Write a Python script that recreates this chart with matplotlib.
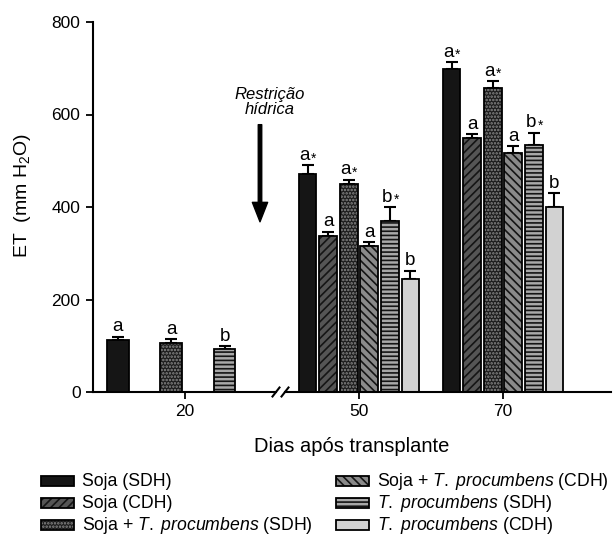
import numpy as np
import matplotlib
matplotlib.use("Agg")
import matplotlib.pyplot as plt
from matplotlib.patches import Rectangle

plt.rcParams['font.family'] = ['Liberation Sans', 'DejaVu Sans']
plt.rcParams['mathtext.fontset'] = 'custom'
plt.rcParams['mathtext.rm'] = 'Liberation Sans'
plt.rcParams['mathtext.it'] = 'Liberation Sans:italic'
plt.rcParams['hatch.linewidth'] = 1.2

# Data
days = ["20", "50", "70"]
series = ["Soja (SDH)", "Soja (CDH)", r"Soja + $\mathit{T.}$ $\mathit{procumbens}$ (SDH)",
          r"Soja + $\mathit{T.}$ $\mathit{procumbens}$ (CDH)", r"$\mathit{T.}$ $\mathit{procumbens}$ (SDH)",
          r"$\mathit{T.}$ $\mathit{procumbens}$ (CDH)"]
# ET (mm H2O) per series for days 20, 50, 70 (nan = not measured)
et_soja_sdh = [112, 472, 699]
et_soja_cdh = [np.nan, 338, 549]
et_mix_sdh = [106, 450, 658]
et_mix_cdh = [np.nan, 316, 517]
et_trif_sdh = [93, 370, 533]
et_trif_cdh = [np.nan, 245, 399]
err_soja_sdh = [8, 18, 14]
err_soja_cdh = [np.nan, 9, 9]
err_mix_sdh = [8, 9, 14]
err_mix_cdh = [np.nan, 8, 14]
err_trif_sdh = [6, 30, 28]
err_trif_cdh = [np.nan, 17, 31]
lab_soja_sdh = ["a", "a*", "a*"]
lab_soja_cdh = ["", "a", "a"]
lab_mix_sdh = ["a", "a*", "a*"]
lab_mix_cdh = ["", "a", "a"]
lab_trif_sdh = ["b", "b*", "b*"]
lab_trif_cdh = ["", "b", "b"]

values = [et_soja_sdh, et_soja_cdh, et_mix_sdh, et_mix_cdh, et_trif_sdh, et_trif_cdh]
errors = [err_soja_sdh, err_soja_cdh, err_mix_sdh, err_mix_cdh, err_trif_sdh, err_trif_cdh]
letters = [lab_soja_sdh, lab_soja_cdh, lab_mix_sdh, lab_mix_cdh, lab_trif_sdh, lab_trif_cdh]

# styles: face colour, hatch, hatch colour
faces = ['#151515', '#555555', '#1c1c1c', '#8a8a8a', '#a8a8a8', '#d2d2d2']
hatches = [None, '////', '.....', '\\\\\\\\', '----', None]
hcols = ['#151515', '#151515', '#8a8a8a', '#151515', '#151515', '#d2d2d2']

W, H = 613, 535
fig = plt.figure(figsize=(6.13, 5.35), dpi=100)
ax1 = fig.add_axes([93/W, 1-392/H, 183/W, 370/H])
ax2 = fig.add_axes([285/W, 1-392/H, 326/W, 370/H], sharey=ax1)
ax2.patch.set_visible(False)

group_pos = {0: (ax1, 0, 0.81), 1: (ax2, 0, 0.86), 2: (ax2, 7, 0.86)}

for i in range(6):
    for g in range(3):
        v = values[i][g]
        if np.isnan(v):
            continue
        ax, center, w = group_pos[g]
        x = center + (i - 2.5)
        ax.bar(x, v, w, color=faces[i], hatch=hatches[i], edgecolor=hcols[i], linewidth=0, zorder=2)
        ax.bar(x, v, w, fill=False, edgecolor='black', linewidth=1.3, zorder=3)
        ax.errorbar(x, v, yerr=[[0], [errors[i][g]]], fmt='none', ecolor='black',
                    elinewidth=1.5, capsize=4.5, capthick=1.5, zorder=1)
        top = v + errors[i][g]
        lab = letters[i][g]
        if lab.endswith('*'):
            ax.annotate(lab[0], (x, top), xytext=(-2, 1), textcoords='offset points',
                        ha='center', va='bottom', fontsize=13.5)
            ax.annotate('*', (x, top), xytext=(2.5, 0), textcoords='offset points',
                        ha='left', va='bottom', fontsize=10)
        else:
            ax.annotate(lab, (x, top), xytext=(0, 1), textcoords='offset points',
                        ha='center', va='bottom', fontsize=13.5)

ax1.set_xlim(-3.43, 3.43)
ax2.set_xlim(-3.6, 12.25)
ax1.set_ylim(0, 800)
ax1.set_yticks([0, 200, 400, 600, 800])
ax1.set_xticks([0])
ax1.set_xticklabels([days[0]])
ax2.set_xticks([0, 7])
ax2.set_xticklabels(days[1:])

for ax in (ax1, ax2):
    ax.spines['top'].set_visible(False)
    ax.spines['right'].set_visible(False)
    ax.spines['bottom'].set_linewidth(1.5)
    ax.tick_params(labelsize=12.5, width=1.3, length=5, direction='out', pad=4)
ax1.spines['left'].set_linewidth(1.5)
ax2.spines['left'].set_visible(False)
ax2.tick_params(axis='y', left=False, labelleft=False)

# axis break marks
dx1, dy1 = 3.5/183, 4.5/370
ax1.plot([1-dx1, 1+dx1], [-dy1, dy1], transform=ax1.transAxes, color='black', lw=1.5, clip_on=False)
dx2 = 3.5/326
ax2.plot([-dx2, dx2], [-dy1, dy1], transform=ax2.transAxes, color='black', lw=1.5, clip_on=False)

ax1.set_ylabel(r"ET  (mm H$_2$O)", fontsize=14)
ax1.yaxis.set_label_coords(-0.33, 0.53)
fig.text(352/W, 1-447/H, "Dias após transplante", ha='center', va='center', fontsize=14.5)

# water restriction arrow
ax1.annotate("", xy=(2.83, 368), xytext=(2.83, 578),
             arrowprops=dict(facecolor='black', edgecolor='black', width=2.5, headwidth=11, headlength=14),
             annotation_clip=False)
ax1.text(3.2, 627, "Restrição\nhídrica", ha='center', va='center', fontsize=12,
         style='italic', linespacing=1.05, clip_on=False)

# legend, two columns of three rows
col_x = [41, 336]
row_y = [481, 503, 525]
for i in range(6):
    cx = col_x[i // 3]
    ry = row_y[i % 3]
    box = [cx/W, 1-(ry+5)/H]
    bw, bh = 33/W, 10/H
    fig.add_artist(Rectangle(box, bw, bh, transform=fig.transFigure, facecolor=faces[i],
                             hatch=hatches[i], edgecolor=hcols[i], linewidth=0))
    fig.add_artist(Rectangle(box, bw, bh, transform=fig.transFigure, fill=False,
                             edgecolor='black', linewidth=1.3))
    fig.text((cx+41)/W, 1-(ry+4.5)/H, series[i], ha='left', va='baseline', fontsize=12.7)

fig.savefig("out.png", dpi=100)
